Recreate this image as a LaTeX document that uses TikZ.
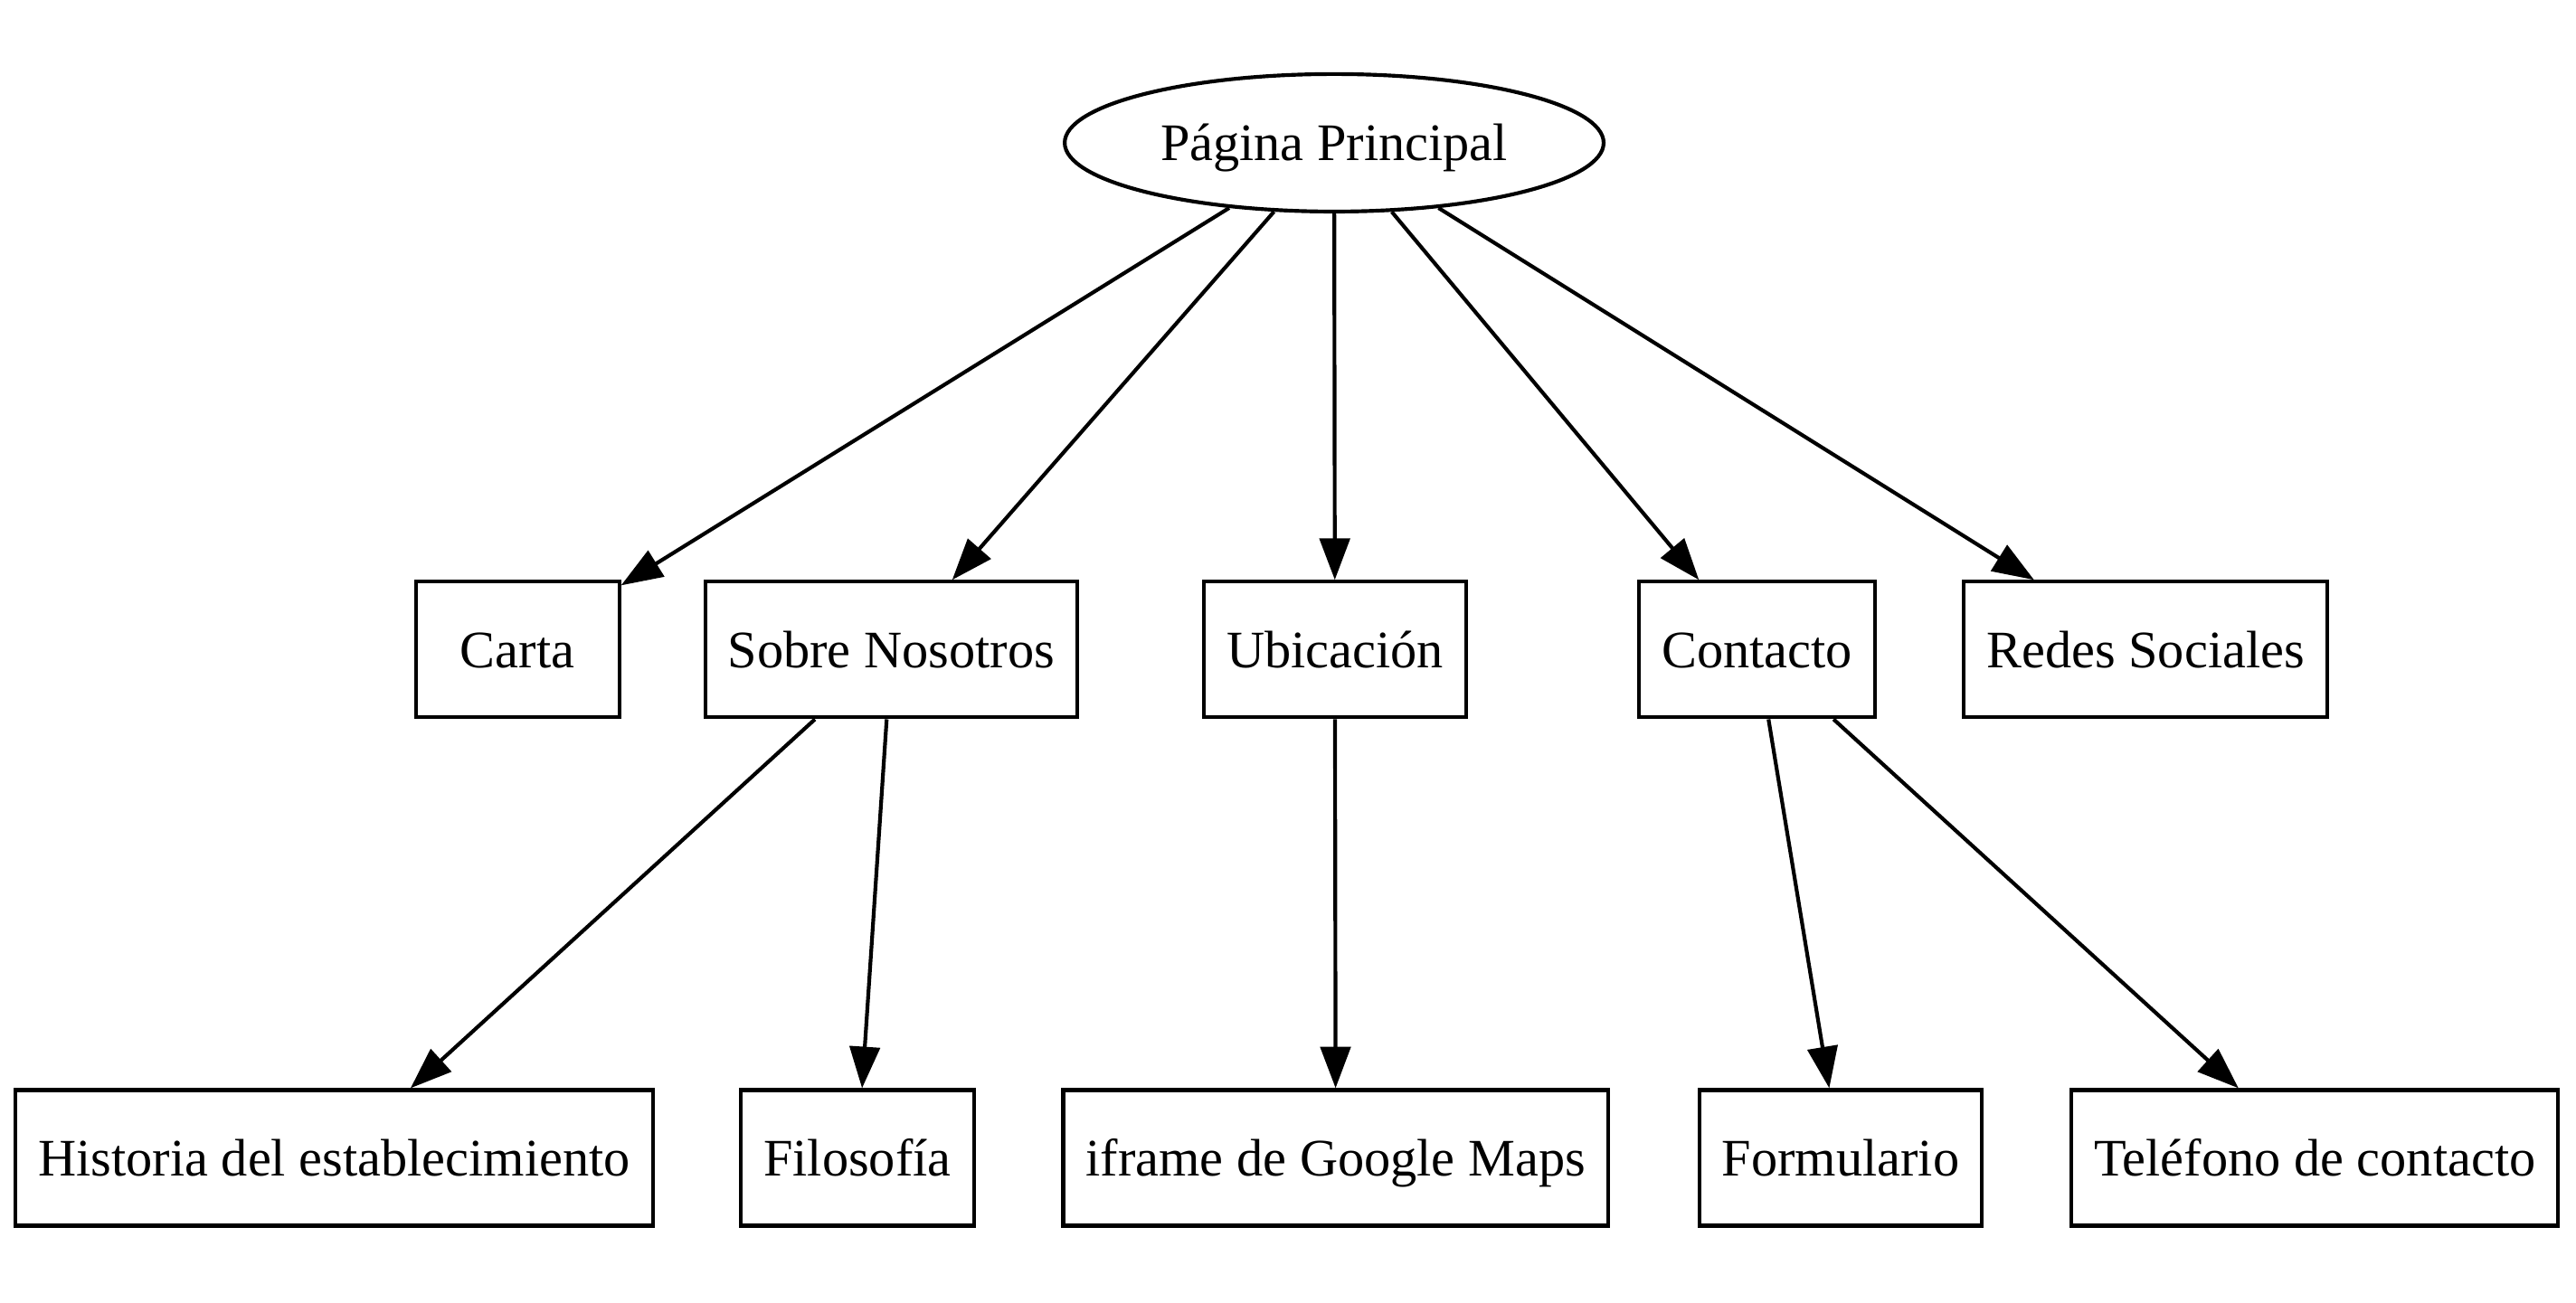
\documentclass[tikz,border=0pt]{standalone}
\usepackage{fontspec}
\setmainfont{Liberation Serif}
\usetikzlibrary{arrows.meta,positioning,shapes.geometric}
\tikzset{
pagestyle/.style={
  ellipse,
  line width=1pt,
  draw=black,
  minimum width=143pt,
  minimum height=36.5pt,
  inner sep=0pt,
  text height=11.2pt,
  text depth=1.6pt,
  font=\fontsize{14}{16}\selectfont,
  }
}
\tikzset{
boxstyle/.style={
  rectangle,
  line width=1pt,
  draw=black,
  minimum width=54pt,
  minimum height=36pt,
  inner xsep=6pt,
  inner ysep=0pt,
  text height=11.2pt,
  text depth=1.6pt,
  font=\fontsize{14}{16}\selectfont,
  }
}
\tikzset{
myline/.style={
  line width=1pt,
  -{Triangle[length=11pt,width=8pt]}
  }
}

\begin{document}
\begin{tikzpicture}[x=1pt,y=1pt]
    \useasboundingbox (0,0) rectangle (683.5,-345.8);

    % main page
    \node[pagestyle] (main) at (354.0,-37.9) {Página Principal};

    % first level
    \node[boxstyle] (carta) at (137.3,-172.4) {Carta};
    \node[boxstyle] (sobre) at (236.5,-172.4) {Sobre Nosotros};
    \node[boxstyle] (ubic) at (354.2,-172.4) {Ubicación};
    \node[boxstyle] (contacto) at (466.2,-172.4) {Contacto};
    \node[boxstyle] (redes) at (569.3,-172.4) {Redes Sociales};

    % second level
    \node[boxstyle] (historia) at (88.7,-307.3) {Historia del establecimiento};
    \node[boxstyle] (filo) at (227.5,-307.3) {Filosofía};
    \node[boxstyle] (maps) at (354.4,-307.3) {iframe de Google Maps};
    \node[boxstyle] (form) at (488.4,-307.3) {Formulario};
    \node[boxstyle] (tel) at (614.2,-307.3) {Teléfono de contacto};

    % main edges
    \draw[myline] (main) -- (carta);
    \draw[myline] (main) -- (sobre);
    \draw[myline] (main) -- (ubic);
    \draw[myline] (main) -- (contacto);
    \draw[myline] (main) -- (redes);

    % second level edges
    \draw[myline] (sobre) -- (historia);
    \draw[myline] (sobre) -- (filo);
    \draw[myline] (ubic) -- (maps);
    \draw[myline] (contacto) -- (form);
    \draw[myline] (contacto) -- (tel);
\end{tikzpicture}
\end{document}
